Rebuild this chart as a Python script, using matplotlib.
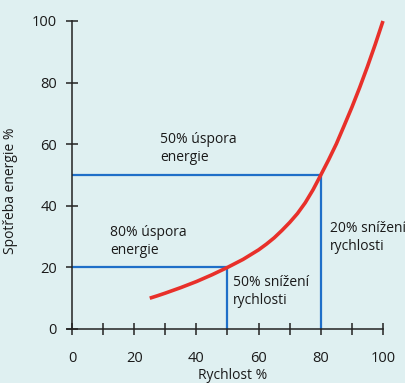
import matplotlib
matplotlib.use("Agg")
import matplotlib.pyplot as plt

# Data
speed = [25, 27.5, 30, 35, 40, 45, 50, 55, 60, 62.5, 65, 67.5, 70, 72.5, 75, 77.5, 80,
         82.5, 85, 87.5, 90, 92.5, 95, 97.5, 100]
energy = [10, 10.8, 11.65, 13.45, 15.4, 17.6, 20, 22.6, 25.7, 27.55, 29.6, 32.0, 34.6, 37.5, 41.0, 45.2, 50,
          54.9, 60.1, 66, 72, 78.4, 85.2, 92.4, 100]
x_ticks = [0, 10, 20, 30, 40, 50, 60, 70, 80, 90, 100]
x_labels = ["0", "", "20", "", "40", "", "60", "", "80", "", "100"]
y_ticks = [0, 20, 40, 60, 80, 100]
y_labels = ["0", "20", "40", "60", "80", "100"]
guide_a = (50, 20)   # 50% speed -> 20% energy
guide_b = (80, 50)   # 80% speed -> 50% energy

plt.rcParams['font.family'] = ['Open Sans', 'DejaVu Sans']

bg = '#dff0f1'
fig = plt.figure(figsize=(4.06, 3.83), dpi=100, facecolor=bg)
ax = fig.add_axes([72/406, 54/383, 311/406, 308/383])
ax.set_facecolor(bg)
ax.set_xlim(0, 100)
ax.set_ylim(0, 100)

blue = '#1f6fc8'
red = '#e8302a'
axc = '#222222'

for gx, gy in (guide_a, guide_b):
    ax.plot([0, gx], [gy, gy], color=blue, lw=1.6, solid_capstyle='butt', zorder=2)
    ax.plot([gx, gx], [0, gy], color=blue, lw=1.6, solid_capstyle='butt', zorder=2)

ax.plot(speed, energy, color=red, lw=2.6, solid_capstyle='butt', solid_joinstyle='round',
        zorder=3, clip_on=False)

for s in ('top', 'right'):
    ax.spines[s].set_visible(False)
ax.spines['left'].set_bounds(0, 100)
ax.spines['bottom'].set_bounds(-1.6, 100)
for s in ('left', 'bottom'):
    ax.spines[s].set_color(axc)
    ax.spines[s].set_linewidth(1.1)

ax.set_xticks(x_ticks)
ax.set_xticklabels(x_labels)
ax.set_yticks(y_ticks)
ax.set_yticklabels(y_labels)
ax.tick_params(axis='x', direction='inout', length=8, width=1.1, color=axc,
               pad=12, labelsize=10.5, labelcolor='#1a1a1a')
ax.tick_params(axis='y', direction='inout', length=8.6, width=1.1, color=axc,
               pad=6.5, labelsize=10.5, labelcolor='#1a1a1a')

ax.set_xlabel('Rychlost %', fontsize=10, color='#1a1a1a')
ax.xaxis.set_label_coords(0.517, -0.128)
ax.set_ylabel('Spotřeba energie %', fontsize=10, color='#1a1a1a')
ax.yaxis.set_label_coords(-0.175, 0.45)

tkw = dict(fontsize=10, color='#1a1a1a', ha='left', va='center', linespacing=1.25)
ax.text(28.3, 58.6, '50% úspora\nenergie', **tkw)
ax.text(12.2, 28.3, '80% úspora\nenergie', **tkw)
ax.text(51.8, 12.2, '50% snížení\nrychlosti', **tkw)
ax.text(83.0, 29.8, '20% snížení\nrychlosti', **tkw)

fig.savefig('out.png', dpi=100, facecolor=bg)
